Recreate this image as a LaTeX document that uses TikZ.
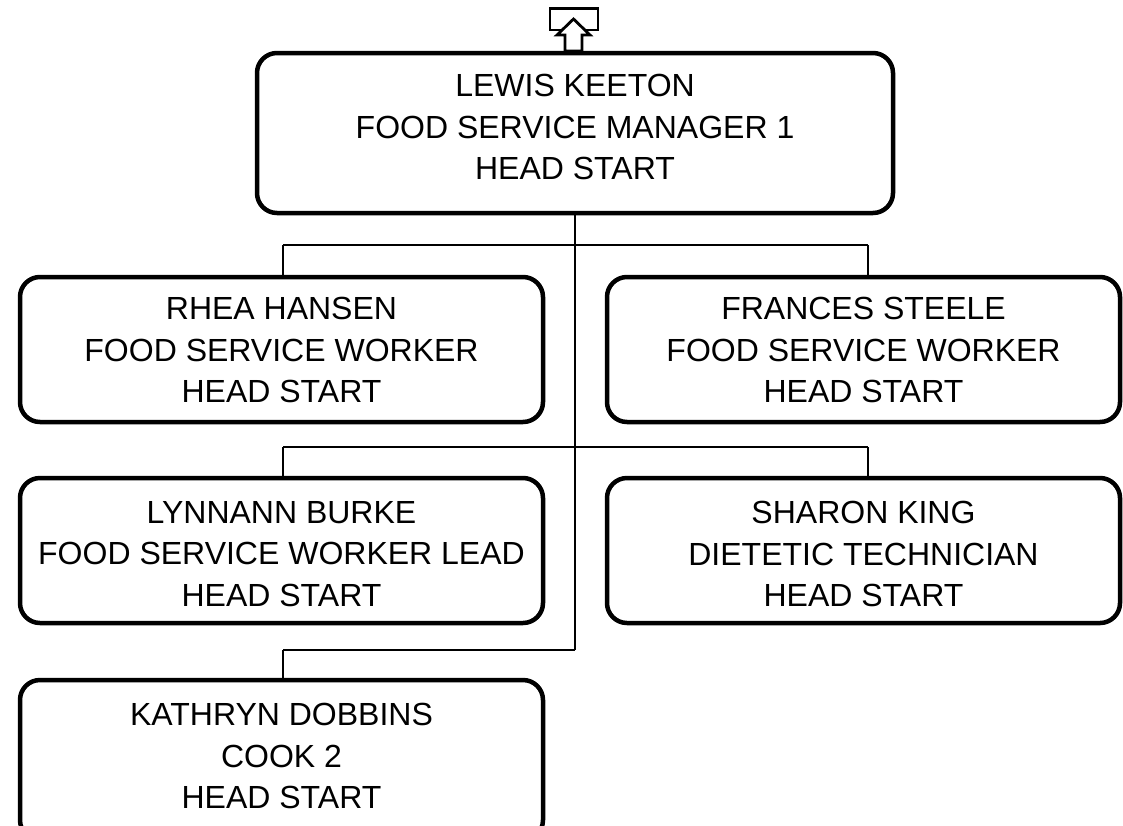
\documentclass[tikz,border=0pt]{standalone}
\usepackage{fontspec}
\setmainfont{Liberation Sans}
\begin{document}
\begin{tikzpicture}[x=1pt,y=-1pt,
  box/.style={draw=black,line width=4.5pt,rounded corners=20pt,fill=white,inner sep=0pt},
  txt/.style={align=center,inner sep=0pt,font=\fontsize{32}{41.5}\selectfont},
  conn/.style={draw=black,line width=2.5pt},
  icon/.style={draw=black,line width=2.8pt,line join=miter}]
\clip (0,0) rectangle (1123,825);
\fill[white] (0,0) rectangle (1123,825);
% junction coordinates
\coordinate (j1) at (575,245);
\coordinate (j2) at (575,447);
\coordinate (j3) at (575,650);
\coordinate (l1) at (283,245);
\coordinate (r1) at (868,245);
\coordinate (l2) at (283,447);
\coordinate (r2) at (868,447);
\coordinate (l3) at (283,650);
% boxes
\node[box,minimum width=636pt,minimum height=160pt] (m) at (575,133) {};
\node[box,minimum width=523pt,minimum height=145pt] (rh) at (281.5,349.5) {};
\node[box,minimum width=513pt,minimum height=145pt] (fs) at (863.5,349.5) {};
\node[box,minimum width=523pt,minimum height=145pt] (lb) at (281.5,550.5) {};
\node[box,minimum width=513pt,minimum height=145pt] (sk) at (863.5,550.5) {};
\node[box,minimum width=523pt,minimum height=160pt] (kd) at (281.5,760) {};
% connectors
\draw[conn] (m.south) -- (j3);
\draw[conn] (l1) -- (r1);
\draw[conn] (l1) -- (l1 |- rh.north);
\draw[conn] (r1) -- (r1 |- fs.north);
\draw[conn] (l2) -- (r2);
\draw[conn] (l2) -- (l2 |- lb.north);
\draw[conn] (r2) -- (r2 |- sk.north);
\draw[conn] (j3) -- (l3);
\draw[conn] (l3) -- (l3 |- kd.north);
% texts
\node[txt] (mt) at (575,127) {LEWIS KEETON\\FOOD SERVICE MANAGER 1\\HEAD START};
\node[txt] (rht) at (281.5,350) {RHEA HANSEN\\FOOD SERVICE WORKER\\HEAD START};
\node[txt] (fst) at (863.5,350) {FRANCES STEELE\\FOOD SERVICE WORKER\\HEAD START};
\node[txt] (lbt) at (281.5,554) {LYNNANN BURKE\\FOOD SERVICE WORKER LEAD\\HEAD START};
\node[txt] (skt) at (863.5,554) {SHARON KING\\DIETETIC TECHNICIAN\\HEAD START};
\node[txt] (kdt) at (281.5,756) {KATHRYN DOBBINS\\COOK 2\\HEAD START};
% up icon
\draw[icon] (550,8.5) rectangle (598,30);
\filldraw[icon,fill=white] (573.5,19) -- (590,35) -- (582,35) -- (582,51) -- (565,51) -- (565,35) -- (557,35) -- cycle;
\end{tikzpicture}
\end{document}
